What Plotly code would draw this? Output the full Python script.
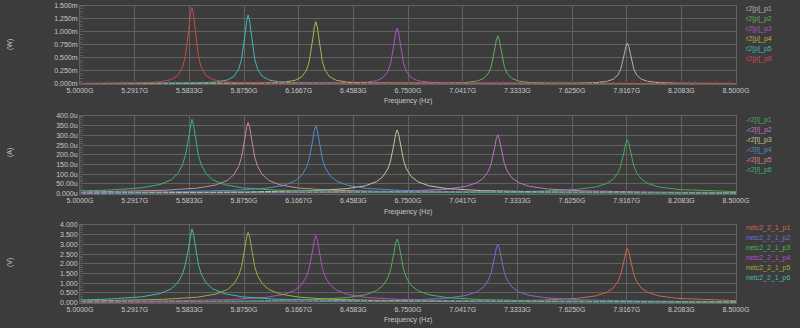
import plotly.graph_objects as go

# ---------------- data ----------------
# frequency samples (GHz) around each of the six resonances
freq_a = [5.0, 5.147, 5.327, 5.427, 5.487, 5.522, 5.547, 5.562, 5.572, 5.581, 5.589, 5.597, 5.605,
          5.613, 5.622, 5.632, 5.647, 5.672, 5.707, 5.767, 5.867, 6.047, 6.397, 7.097, 8.5]
freq_b = [5.0, 5.097, 5.447, 5.627, 5.727, 5.787, 5.822, 5.847, 5.862, 5.872, 5.881, 5.889, 5.897,
          5.905, 5.913, 5.922, 5.932, 5.947, 5.972, 6.007, 6.067, 6.167, 6.347, 6.697, 7.397, 8.5]
freq_c = [5.0, 5.458, 5.808, 5.988, 6.088, 6.148, 6.183, 6.208, 6.223, 6.233, 6.242, 6.25, 6.258,
          6.266, 6.274, 6.283, 6.293, 6.308, 6.333, 6.368, 6.428, 6.528, 6.708, 7.058, 7.758, 8.5]
freq_d = [5.0, 5.192, 5.892, 6.242, 6.422, 6.522, 6.582, 6.617, 6.642, 6.657, 6.667, 6.676, 6.684,
          6.692, 6.7, 6.708, 6.717, 6.727, 6.742, 6.767, 6.802, 6.862, 6.962, 7.142, 7.492, 8.192, 8.5]
freq_e = [5.0, 5.729, 6.429, 6.779, 6.959, 7.059, 7.119, 7.154, 7.179, 7.194, 7.204, 7.213, 7.221,
          7.229, 7.237, 7.245, 7.254, 7.264, 7.279, 7.304, 7.339, 7.399, 7.499, 7.679, 8.029, 8.5]
freq_f = [5.0, 6.42, 7.12, 7.47, 7.65, 7.75, 7.81, 7.845, 7.87, 7.885, 7.895, 7.904, 7.912,
          7.92, 7.928, 7.936, 7.945, 7.955, 7.97, 7.995, 8.03, 8.09, 8.19, 8.37, 8.5]

# top panel: power (mW)
top_names = ["r2[p]_p1", "r2[p]_p2", "r2[p]_p3", "r2[p]_p4", "r2[p]_p5", "r2[p]_p6"]
top_colors = ["#b4b4a8", "#5cb060", "#a855c0", "#b0b050", "#40b8b8", "#d04848"]
top_p1 = [.0001, .0002, .0009, .0026, .0072, .0179, .0415, .0838, .167, .279, .406, .568, .715, .783,
          .715, .568, .406, .279, .167, .0838, .0415, .0179, .0072, .0026, .0016]
top_p2 = [.0001, .0003, .0010, .0030, .0085, .0211, .0489, .0988, .197, .329, .479, .669, .843, .923,
          .843, .669, .479, .329, .197, .0988, .0489, .0211, .0085, .0030, .0010, .0004]
top_p3 = [.0002, .0003, .0012, .0035, .0099, .0245, .0568, .115, .228, .381, .556, .776, .978, 1.071,
          .978, .776, .556, .381, .228, .115, .0568, .0245, .0099, .0035, .0012, .0003, .0002]
top_p4 = [.0005, .0013, .0040, .0110, .0274, .0635, .128, .255, .426, .622, .869, 1.094, 1.198,
          1.094, .869, .622, .426, .255, .128, .0635, .0274, .0110, .0040, .0013, .0004, .0001]
top_p5 = [.0011, .0015, .0044, .0122, .0304, .0703, .142, .283, .472, .689, .962, 1.212, 1.327,
          1.212, .962, .689, .472, .283, .142, .0703, .0304, .0122, .0044, .0015, .0004, .0001]
top_p6 = [.0028, .0049, .0136, .0338, .0782, .158, .314, .525, .766, 1.069, 1.347, 1.475,
          1.347, 1.069, .766, .525, .314, .158, .0782, .0338, .0136, .0049, .0016, .0004, .0001]

# middle panel: current (uA)
mid_names = ["-r2[i]_p1", "-r2[i]_p2", "-r2[i]_p3", "-r2[i]_p4", "-r2[i]_p5", "-r2[i]_p6"]
mid_colors = ["#48a858", "#c070c8", "#c4c29e", "#4a8ed0", "#d08890", "#3cb07c"]
mid_p1 = [2.0, 3.9, 7.3, 12.9, 21.5, 34.0, 51.9, 74.8, 107.2, 142.4, 178.1, 220.2, 258.7, 277,
          258.7, 220.2, 178.1, 142.4, 107.2, 74.8, 51.9, 34.0, 21.5, 12.9, 10.0]
mid_p2 = [2.8, 4.2, 7.9, 14.1, 23.5, 37.1, 56.8, 81.8, 117.3, 155.7, 194.8, 240.9, 283.0, 303,
          283.0, 240.9, 194.8, 155.7, 117.3, 81.8, 56.8, 37.1, 23.5, 14.1, 7.9, 5.0]
mid_p3 = [4.1, 4.6, 8.6, 15.3, 25.4, 40.2, 61.5, 88.6, 126.9, 168.6, 210.9, 260.8, 306.4, 328,
          306.4, 260.8, 210.9, 168.6, 126.9, 88.6, 61.5, 40.2, 25.4, 15.3, 8.6, 4.6, 3.8]
mid_p4 = [5.8, 9.1, 16.3, 27.0, 42.8, 65.4, 94.2, 135.1, 179.4, 224.4, 277.5, 326.0, 349,
          326.0, 277.5, 224.4, 179.4, 135.1, 94.2, 65.4, 42.8, 27.0, 16.3, 9.1, 4.9, 3.3]
mid_p5 = [8.6, 9.6, 17.1, 28.4, 44.9, 68.6, 98.8, 141.6, 188.1, 235.3, 291.0, 341.8, 366,
          341.8, 291.0, 235.3, 188.1, 141.6, 98.8, 68.6, 44.9, 28.4, 17.1, 9.6, 5.1, 3.0]
mid_p6 = [13.5, 17.8, 29.7, 47.0, 71.8, 103.4, 148.2, 196.9, 246.3, 304.5, 357.7, 383,
          357.7, 304.5, 246.3, 196.9, 148.2, 103.4, 71.8, 47.0, 29.7, 17.8, 10.0, 5.4, 2.8]

# bottom panel: voltage (V)
bot_names = ["netc2_2_1_p1", "netc2_2_1_p2", "netc2_2_1_p3", "netc2_2_1_p4", "netc2_2_1_p5", "netc2_2_1_p6"]
bot_colors = ["#d06450", "#6a72d0", "#50b058", "#b050c0", "#a8a840", "#40b8b0"]
bot_p1 = [.020, .039, .073, .130, .217, .343, .525, .756, 1.084, 1.439, 1.800, 2.226, 2.615, 2.80,
          2.615, 2.226, 1.800, 1.439, 1.084, .756, .525, .343, .217, .130, .101]
bot_p2 = [.028, .042, .079, .140, .233, .369, .564, .813, 1.165, 1.547, 1.935, 2.393, 2.811, 3.01,
          2.811, 2.393, 1.935, 1.547, 1.165, .813, .564, .369, .233, .140, .079, .050]
bot_p3 = [.041, .046, .086, .153, .254, .402, .615, .886, 1.269, 1.686, 2.109, 2.608, 3.064, 3.28,
          3.064, 2.608, 2.109, 1.686, 1.269, .886, .615, .402, .254, .153, .086, .046, .038]
bot_p4 = [.058, .090, .161, .267, .423, .647, .932, 1.335, 1.773, 2.218, 2.743, 3.222, 3.45,
          3.222, 2.743, 2.218, 1.773, 1.335, .932, .647, .423, .267, .161, .090, .048, .032]
bot_p5 = [.085, .095, .169, .281, .444, .679, .977, 1.401, 1.861, 2.328, 2.878, 3.381, 3.62,
          3.381, 2.878, 2.328, 1.861, 1.401, .977, .679, .444, .281, .169, .095, .051, .029]
bot_p6 = [.134, .177, .295, .466, .713, 1.026, 1.471, 1.953, 2.443, 3.021, 3.549, 3.80,
          3.549, 3.021, 2.443, 1.953, 1.471, 1.026, .713, .466, .295, .177, .0996, .053, .027]

trace_freqs = [freq_f, freq_e, freq_d, freq_c, freq_b, freq_a]  # p1 .. p6

x_tickvals = [5.0, 5.291667, 5.583333, 5.875, 6.166667, 6.458333, 6.75,
              7.041667, 7.333333, 7.625, 7.916667, 8.208333, 8.5]
x_ticktext = ["5.0000G", "5.2917G", "5.5833G", "5.8750G", "6.1667G", "6.4583G", "6.7500G",
              "7.0417G", "7.3333G", "7.6250G", "7.9167G", "8.2083G", "8.5000G"]
top_tickvals = [0, 0.25, 0.5, 0.75, 1.0, 1.25, 1.5]
top_ticktext = ["0.000m", "0.250m", "0.500m", "0.750m", "1.000m", "1.250m", "1.500m"]
mid_tickvals = [0, 50, 100, 150, 200, 250, 300, 350, 400]
mid_ticktext = ["0.000u", "50.00u", "100.0u", "150.0u", "200.0u", "250.0u", "300.0u", "350.0u", "400.0u"]
bot_tickvals = [0, 0.5, 1.0, 1.5, 2.0, 2.5, 3.0, 3.5, 4.0]
bot_ticktext = ["0.000", "0.500", "1.000", "1.500", "2.000", "2.500", "3.000", "3.500", "4.000"]

# ---------------- figure ----------------
W, H = 800, 328
BG = "#3c3c3c"
GRID = "#626262"
TXT = "#c8c8c8"
FONT = "Liberation Sans, Arial, sans-serif"

def px_x(p):
    return p / W

def px_y(p):
    return 1 - p / H

panels = [
    dict(names=top_names, colors=top_colors, vals=[top_p1, top_p2, top_p3, top_p4, top_p5, top_p6],
         top=6, bottom=84, yrange=[-0.008, 1.5], tv=top_tickvals, tt=top_ticktext, ydt=0.05,
         unit="(W)", unit_y=45, title_y=101, leg_y=9),
    dict(names=mid_names, colors=mid_colors, vals=[mid_p1, mid_p2, mid_p3, mid_p4, mid_p5, mid_p6],
         top=116, bottom=194, yrange=[-2, 400], tv=mid_tickvals, tt=mid_ticktext, ydt=10,
         unit="(A)", unit_y=153, title_y=212, leg_y=120),
    dict(names=bot_names, colors=bot_colors, vals=[bot_p1, bot_p2, bot_p3, bot_p4, bot_p5, bot_p6],
         top=225, bottom=303, yrange=[-0.02, 4.0], tv=bot_tickvals, tt=bot_ticktext, ydt=0.1,
         unit="(V)", unit_y=263, title_y=320, leg_y=228),
]

fig = go.Figure()
annotations = []
layout = {}
for i, p in enumerate(panels):
    n = "" if i == 0 else str(i + 1)
    xa, ya = "x" + n, "y" + n
    for k in range(6):
        fig.add_trace(go.Scatter(x=trace_freqs[k], y=p["vals"][k], mode="lines", name=p["names"][k],
                                 line=dict(color=p["colors"][k], width=1),
                                 xaxis=xa, yaxis=ya, showlegend=False, hoverinfo="skip"))
    layout["xaxis" + n] = dict(
        domain=[px_x(80), px_x(736)], range=[5.0, 8.5], anchor=ya, automargin=False,
        tickmode="array", tickvals=x_tickvals, ticktext=x_ticktext,
        showgrid=True, gridcolor=GRID, gridwidth=1, zeroline=False,
        showline=True, mirror=True, linecolor=GRID, linewidth=1,
        ticks="", tickfont=dict(size=7, color=TXT, family=FONT),
        minor=dict(ticks="inside", ticklen=3, tickcolor="#5a5a5a", tick0=5.0, dtick=0.0364583, showgrid=False),
    )
    layout["yaxis" + n] = dict(
        domain=[px_y(p["bottom"]), px_y(p["top"])], range=p["yrange"], anchor=xa, automargin=False,
        tickmode="array", tickvals=p["tv"], ticktext=p["tt"],
        showgrid=True, gridcolor=GRID, gridwidth=1, zeroline=False,
        showline=True, mirror=True, linecolor=GRID, linewidth=1,
        ticks="", tickfont=dict(size=7, color=TXT, family=FONT),
        minor=dict(ticks="inside", ticklen=3, tickcolor="#5a5a5a", tick0=0, dtick=p["ydt"], showgrid=False),
    )
    for k in range(6):
        annotations.append(dict(text=p["names"][k], x=px_x(744), y=px_y(p["leg_y"] + 10 * k),
                                xref="paper", yref="paper", xanchor="left", yanchor="middle",
                                showarrow=False, font=dict(size=7, color=p["colors"][k], family=FONT)))
    annotations.append(dict(text=p["unit"], x=px_x(10), y=px_y(p["unit_y"]), xref="paper", yref="paper",
                            xanchor="center", yanchor="middle", textangle=-90, showarrow=False,
                            font=dict(size=7, color=TXT, family=FONT)))
    annotations.append(dict(text="Frequency (Hz)", x=px_x(408), y=px_y(p["title_y"]), xref="paper",
                            yref="paper", xanchor="center", yanchor="middle", showarrow=False,
                            font=dict(size=7, color=TXT, family=FONT)))

fig.update_layout(
    width=W, height=H, autosize=False,
    margin=dict(l=0, r=0, t=0, b=0, pad=0),
    paper_bgcolor=BG, plot_bgcolor=BG,
    showlegend=False, annotations=annotations,
    font=dict(family=FONT, size=7, color=TXT),
    **layout,
)

fig.write_html("out.html", config={"displayModeBar": False})
